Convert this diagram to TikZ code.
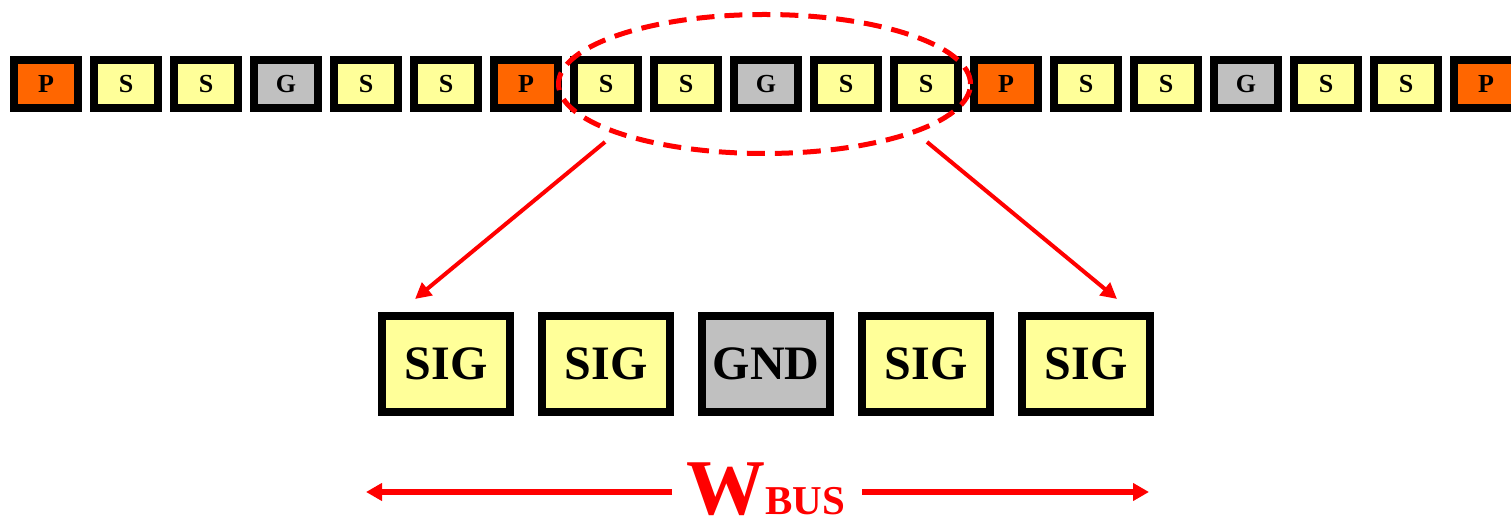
\documentclass[tikz,border=0pt]{standalone}
\usepackage{fontspec}
\setmainfont{Liberation Serif}
\usetikzlibrary{arrows.meta,shapes.geometric}
\definecolor{pwr}{HTML}{FF6600}
\definecolor{sigc}{HTML}{FFFF99}
\definecolor{gndc}{HTML}{C0C0C0}
\definecolor{redc}{HTML}{FF0000}
\tikzset{
  smallpin/.style={draw=black, line width=8pt, minimum width=64pt, minimum height=48pt, inner sep=0pt, font=\fontsize{26}{26}\selectfont\bfseries},
  bigpin/.style={draw=black, line width=8pt, minimum width=128pt, minimum height=96pt, inner sep=0pt, font=\fontsize{48}{48}\selectfont\bfseries},
  zoomarrow/.style={draw=redc, line width=4pt, -{Triangle[length=16pt,width=16pt]}},
  busarrow/.style={draw=redc, line width=5.5pt, -{Triangle[length=16pt,width=17pt]}},
  selring/.style={draw=redc, line width=5pt, dash pattern=on 18pt off 10pt}
}
\begin{document}
\begin{tikzpicture}[x=1pt,y=1pt]
\useasboundingbox (0,0) rectangle (1511,521);
\clip (0,0) rectangle (1511,521);
\foreach \t/\c [count=\i from 0] in {P/pwr,S/sigc,S/sigc,G/gndc,S/sigc,S/sigc,P/pwr,S/sigc,S/sigc,G/gndc,S/sigc,S/sigc,P/pwr,S/sigc,S/sigc,G/gndc,S/sigc,S/sigc,P/pwr}
  \node[smallpin, fill=\c] (t\i) at ({46+80*\i},437) {\t};
\foreach \t/\c [count=\i from 0] in {SIG/sigc,SIG/sigc,GND/gndc,SIG/sigc,SIG/sigc}
  \node[bigpin, fill=\c] (b\i) at ({446+160*\i},157) {\t};
\node[selring, ellipse, minimum width=412pt, minimum height=139pt, inner sep=0pt] (ring) at (764.5,437) {};
\coordinate (ls) at (605,379);
\coordinate (lt) at (415,222);
\coordinate (rs) at (927,379);
\coordinate (rt) at (1117,222);
\draw[zoomarrow] (ls) -- (lt);
\draw[zoomarrow] (rs) -- (rt);
\node[text=redc, inner sep=0pt, anchor=base west, font=\bfseries] (wbus) at (686,6) {{\fontsize{79}{79}\selectfont W}{\fontsize{41}{41}\selectfont BUS}};
\coordinate (wl) at (672,29);
\coordinate (wlt) at (366,29);
\coordinate (wr) at (862,29);
\coordinate (wrt) at (1149,29);
\draw[busarrow] (wl) -- (wlt);
\draw[busarrow] (wr) -- (wrt);
\end{tikzpicture}
\end{document}
